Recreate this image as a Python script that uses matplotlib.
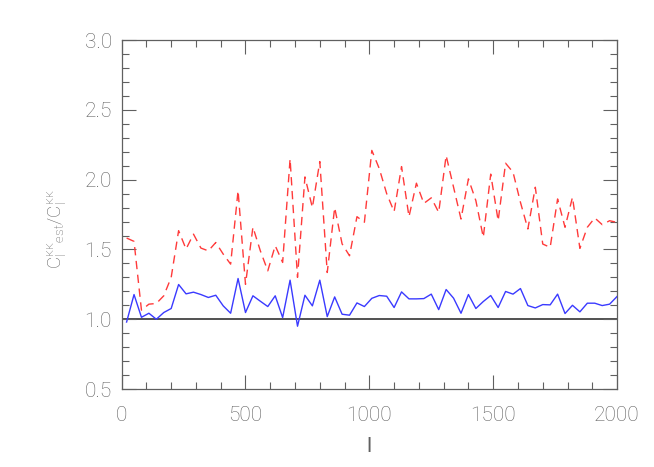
import numpy as np
import matplotlib.pyplot as plt
from matplotlib.ticker import MultipleLocator

# multipole bins (bin centres)
ell = np.arange(20, 2001, 30)

# ratio of estimated to input convergence power spectrum
ratio_blue = [0.98, 1.177, 1.014, 1.043, 1.00, 1.048, 1.077, 1.249, 1.182, 1.194,
              1.177, 1.156, 1.172, 1.096, 1.043, 1.292, 1.048, 1.168, 1.129, 1.091,
              1.168, 1.012, 1.28, 0.95, 1.172, 1.096, 1.28, 1.019, 1.16, 1.036,
              1.029, 1.117, 1.091, 1.15, 1.17, 1.165, 1.084, 1.196, 1.146, 1.146,
              1.148, 1.18, 1.069, 1.213, 1.151, 1.043, 1.177, 1.077, 1.127, 1.17,
              1.084, 1.199, 1.18, 1.22, 1.098, 1.081, 1.105, 1.103, 1.18, 1.041,
              1.10, 1.053, 1.115, 1.115, 1.098, 1.108, 1.163]

ratio_red = [1.582, 1.558, 1.065, 1.108, 1.113, 1.168, 1.30, 1.635, 1.503, 1.61,
             1.51, 1.49, 1.55, 1.467, 1.395, 1.922, 1.25, 1.66, 1.49, 1.347,
             1.527, 1.407, 2.149, 1.30, 2.02, 1.80, 2.13, 1.335, 1.80, 1.54,
             1.455, 1.735, 1.695, 2.21, 2.08, 1.90, 1.771, 2.094, 1.735, 1.975,
             1.83, 1.87, 1.766, 2.173, 1.946, 1.718, 2.006, 1.85, 1.587, 2.04,
             1.706, 2.118, 2.054, 1.838, 1.647, 1.946, 1.539, 1.515, 1.862, 1.659,
             1.874, 1.508, 1.659, 1.726, 1.678, 1.706, 1.694]

grey = '#606060'
plt.rcParams['font.family'] = ['Roboto', 'DejaVu Sans']
plt.rcParams['font.weight'] = 'light'
plt.rcParams['mathtext.fontset'] = 'custom'
plt.rcParams['mathtext.rm'] = 'Roboto:light'
plt.rcParams['mathtext.it'] = 'Roboto:light'

fig = plt.figure(figsize=(6.54, 4.67), dpi=100)
ax = fig.add_axes([0.186, 0.167, 0.7575, 0.747])

ax.axhline(1.0, color='#222222', lw=1.1, zorder=1)
ax.plot(ell, ratio_red, color='#ff3a3a', lw=1.0, dashes=(6, 4), zorder=2)
ax.plot(ell, ratio_blue, color='#3a3aff', lw=1.0, zorder=3)

ax.set_xlim(0, 2000)
ax.set_ylim(0.5, 3.0)
ax.xaxis.set_major_locator(MultipleLocator(500))
ax.xaxis.set_minor_locator(MultipleLocator(100))
ax.yaxis.set_major_locator(MultipleLocator(0.5))
ax.yaxis.set_minor_locator(MultipleLocator(0.1))
ax.yaxis.set_major_formatter(plt.FormatStrFormatter('%.1f'))

ax.tick_params(which='both', direction='in', top=True, right=True,
               color=grey, width=0.8, labelcolor=grey, labelsize=15)
ax.tick_params(which='major', length=10)
ax.tick_params(which='minor', length=5)
ax.tick_params(axis='x', which='major', pad=12)
ax.tick_params(axis='y', which='major', pad=7)
for s in ax.spines.values():
    s.set_color(grey)
    s.set_linewidth(0.9)

ax.set_xlabel('l', color=grey, fontsize=15)
ax.xaxis.set_label_coords(0.5, -0.138)
ax.set_ylabel(r'$\mathrm{C}_\mathrm{l}^{\kappa\kappa}{}_\mathrm{est}/\mathrm{C}_\mathrm{l}^{\kappa\kappa}$',
              color=grey, fontsize=13.5)
ax.yaxis.set_label_coords(-0.107, 0.458)

fig.savefig('out.png', dpi=100)
